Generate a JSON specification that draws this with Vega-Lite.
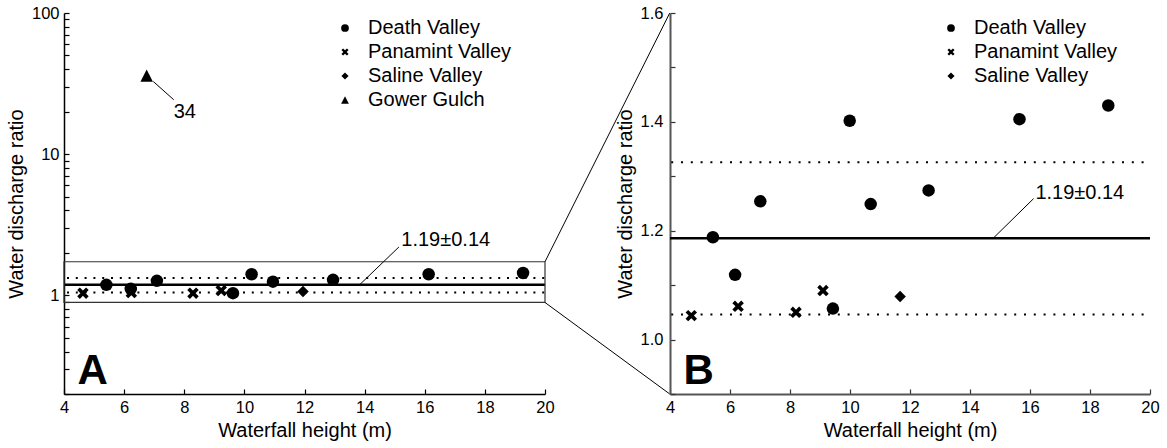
{
  "$schema": "https://vega.github.io/schema/vega-lite/v6.json",
  "autosize": {"type": "pad"},
  "padding": {"left": 6, "top": 5, "right": 5, "bottom": 2},
  "background": "white",
  "datasets": {
    "pointsA": [
      {"site": "Death Valley", "height": 5.41, "ratio": 1.187},
      {"site": "Death Valley", "height": 6.22, "ratio": 1.112},
      {"site": "Death Valley", "height": 7.09, "ratio": 1.267},
      {"site": "Death Valley", "height": 9.62, "ratio": 1.036},
      {"site": "Death Valley", "height": 10.24, "ratio": 1.41},
      {"site": "Death Valley", "height": 10.95, "ratio": 1.25},
      {"site": "Death Valley", "height": 12.95, "ratio": 1.288},
      {"site": "Death Valley", "height": 16.13, "ratio": 1.41},
      {"site": "Death Valley", "height": 19.27, "ratio": 1.44},
      {"site": "Panamint Valley", "height": 4.63, "ratio": 1.036},
      {"site": "Panamint Valley", "height": 6.24, "ratio": 1.047},
      {"site": "Panamint Valley", "height": 8.29, "ratio": 1.036},
      {"site": "Panamint Valley", "height": 9.23, "ratio": 1.08},
      {"site": "Saline Valley", "height": 11.95, "ratio": 1.064},
      {"site": "Gower Gulch", "height": 6.75, "ratio": 36}
    ],
    "pointsB": [
      {"site": "Death Valley", "height": 5.43, "ratio": 1.188},
      {"site": "Death Valley", "height": 6.17, "ratio": 1.119},
      {"site": "Death Valley", "height": 7.01, "ratio": 1.254},
      {"site": "Death Valley", "height": 9.43, "ratio": 1.057},
      {"site": "Death Valley", "height": 9.99, "ratio": 1.402},
      {"site": "Death Valley", "height": 10.69, "ratio": 1.249},
      {"site": "Death Valley", "height": 12.62, "ratio": 1.274},
      {"site": "Death Valley", "height": 15.65, "ratio": 1.405},
      {"site": "Death Valley", "height": 18.61, "ratio": 1.43},
      {"site": "Panamint Valley", "height": 4.71, "ratio": 1.044},
      {"site": "Panamint Valley", "height": 6.27, "ratio": 1.061},
      {"site": "Panamint Valley", "height": 8.2, "ratio": 1.05},
      {"site": "Panamint Valley", "height": 9.1, "ratio": 1.09},
      {"site": "Saline Valley", "height": 11.67, "ratio": 1.079}
    ],
    "levels": [
      {"level": "mean", "ratio": 1.186},
      {"level": "mean+sd", "ratio": 1.326},
      {"level": "mean-sd", "ratio": 1.046}
    ],
    "one": [{}]
  },
  "hconcat": [
    {
      "width": 481,
      "height": 381,
      "layer": [
        {
          "data": {"name": "pointsA"},
          "mark": {"type": "point", "filled": true, "color": "black", "opacity": 1, "size": 156, "strokeWidth": 0},
          "encoding": {
            "x": {"field": "height", "type": "quantitative", "scale": {"domain": [4, 20], "nice": false, "zero": false},
              "axis": {"values": [4, 6, 8, 10, 12, 14, 16, 18, 20], "format": "d", "title": "Waterfall height (m)", "tickSize": -5, "labelPadding": 10, "titlePadding": 5, "domainColor": "black", "domainWidth": 1.5, "tickColor": "black", "tickWidth": 1.2}},
            "y": {"field": "ratio", "type": "quantitative", "scale": {"type": "log", "domain": [0.2, 100], "nice": false},
              "axis": {"values": [0.2, 0.3, 0.4, 0.5, 0.6, 0.7, 0.8, 0.9, 1, 2, 3, 4, 5, 6, 7, 8, 9, 10, 20, 30, 40, 50, 60, 70, 80, 90, 100], "labelExpr": "datum.value == 1 || datum.value == 10 || datum.value == 100 ? datum.value + '' : ''", "title": "Water discharge ratio", "tickSize": -5, "labelPadding": 10, "titlePadding": 5, "domainColor": "black", "domainWidth": 1.5, "tickColor": "black", "tickWidth": 1.2}},
            "shape": {"field": "site", "type": "nominal",
              "scale": {"domain": ["Death Valley", "Panamint Valley", "Saline Valley", "Gower Gulch"],
                "range": ["circle", "M-0.92,-0.5L-0.5,-0.92L0,-0.42L0.5,-0.92L0.92,-0.5L0.42,0L0.92,0.5L0.5,0.92L0,0.42L-0.5,0.92L-0.92,0.5L-0.42,0Z", "M0,-0.92L0.92,0L0,0.92L-0.92,0Z", "M0,-1L1,0.97L-1,0.97Z"]},
              "legend": {"orient": "none", "legendX": 271, "legendY": 5, "title": null}}
          }
        },
        {
          "data": {"name": "levels"},
          "transform": [{"filter": "datum.level == 'mean'"}],
          "mark": {"type": "rule", "color": "black", "strokeWidth": 2.5},
          "encoding": {
            "x": {"datum": 4, "type": "quantitative", "scale": {"domain": [4, 20], "nice": false, "zero": false},
              "axis": {"values": [4, 6, 8, 10, 12, 14, 16, 18, 20], "format": "d", "title": "Waterfall height (m)", "tickSize": -5, "labelPadding": 10, "titlePadding": 5, "domainColor": "black", "domainWidth": 1.5, "tickColor": "black", "tickWidth": 1.2}},
            "x2": {"datum": 20},
            "y": {"field": "ratio", "type": "quantitative", "scale": {"type": "log", "domain": [0.2, 100], "nice": false},
              "axis": {"values": [0.2, 0.3, 0.4, 0.5, 0.6, 0.7, 0.8, 0.9, 1, 2, 3, 4, 5, 6, 7, 8, 9, 10, 20, 30, 40, 50, 60, 70, 80, 90, 100], "labelExpr": "datum.value == 1 || datum.value == 10 || datum.value == 100 ? datum.value + '' : ''", "title": "Water discharge ratio", "tickSize": -5, "labelPadding": 10, "titlePadding": 5, "domainColor": "black", "domainWidth": 1.5, "tickColor": "black", "tickWidth": 1.2}}
          }
        },
        {
          "data": {"name": "levels"},
          "transform": [{"filter": "datum.level != 'mean'"}],
          "mark": {"type": "rule", "color": "black", "strokeWidth": 2, "strokeDash": [2, 6.8], "strokeDashOffset": -3},
          "encoding": {
            "x": {"datum": 4, "type": "quantitative", "scale": {"domain": [4, 20], "nice": false, "zero": false},
              "axis": {"values": [4, 6, 8, 10, 12, 14, 16, 18, 20], "format": "d", "title": "Waterfall height (m)", "tickSize": -5, "labelPadding": 10, "titlePadding": 5, "domainColor": "black", "domainWidth": 1.5, "tickColor": "black", "tickWidth": 1.2}},
            "x2": {"datum": 20},
            "y": {"field": "ratio", "type": "quantitative", "scale": {"type": "log", "domain": [0.2, 100], "nice": false},
              "axis": {"values": [0.2, 0.3, 0.4, 0.5, 0.6, 0.7, 0.8, 0.9, 1, 2, 3, 4, 5, 6, 7, 8, 9, 10, 20, 30, 40, 50, 60, 70, 80, 90, 100], "labelExpr": "datum.value == 1 || datum.value == 10 || datum.value == 100 ? datum.value + '' : ''", "title": "Water discharge ratio", "tickSize": -5, "labelPadding": 10, "titlePadding": 5, "domainColor": "black", "domainWidth": 1.5, "tickColor": "black", "tickWidth": 1.2}}
          }
        },
        {
          "data": {"name": "one"},
          "mark": {"type": "rect", "filled": false, "color": "#333", "strokeWidth": 1.2},
          "encoding": {
            "x": {"datum": 4, "type": "quantitative", "scale": {"domain": [4, 20], "nice": false, "zero": false},
              "axis": {"values": [4, 6, 8, 10, 12, 14, 16, 18, 20], "format": "d", "title": "Waterfall height (m)", "tickSize": -5, "labelPadding": 10, "titlePadding": 5, "domainColor": "black", "domainWidth": 1.5, "tickColor": "black", "tickWidth": 1.2}},
            "x2": {"datum": 20},
            "y": {"datum": 0.89, "type": "quantitative", "scale": {"type": "log", "domain": [0.2, 100], "nice": false},
              "axis": {"values": [0.2, 0.3, 0.4, 0.5, 0.6, 0.7, 0.8, 0.9, 1, 2, 3, 4, 5, 6, 7, 8, 9, 10, 20, 30, 40, 50, 60, 70, 80, 90, 100], "labelExpr": "datum.value == 1 || datum.value == 10 || datum.value == 100 ? datum.value + '' : ''", "title": "Water discharge ratio", "tickSize": -5, "labelPadding": 10, "titlePadding": 5, "domainColor": "black", "domainWidth": 1.5, "tickColor": "black", "tickWidth": 1.2}},
            "y2": {"datum": 1.73}
          }
        },
        {
          "data": {"name": "one"},
          "mark": {"type": "rule", "color": "black", "strokeWidth": 1},
          "encoding": {
            "x": {"datum": 13.83, "type": "quantitative", "scale": {"domain": [4, 20], "nice": false, "zero": false},
              "axis": {"values": [4, 6, 8, 10, 12, 14, 16, 18, 20], "format": "d", "title": "Waterfall height (m)", "tickSize": -5, "labelPadding": 10, "titlePadding": 5, "domainColor": "black", "domainWidth": 1.5, "tickColor": "black", "tickWidth": 1.2}},
            "x2": {"datum": 15.14},
            "y": {"datum": 1.186, "type": "quantitative", "scale": {"type": "log", "domain": [0.2, 100], "nice": false},
              "axis": {"values": [0.2, 0.3, 0.4, 0.5, 0.6, 0.7, 0.8, 0.9, 1, 2, 3, 4, 5, 6, 7, 8, 9, 10, 20, 30, 40, 50, 60, 70, 80, 90, 100], "labelExpr": "datum.value == 1 || datum.value == 10 || datum.value == 100 ? datum.value + '' : ''", "title": "Water discharge ratio", "tickSize": -5, "labelPadding": 10, "titlePadding": 5, "domainColor": "black", "domainWidth": 1.5, "tickColor": "black", "tickWidth": 1.2}},
            "y2": {"datum": 2.2}
          }
        },
        {
          "data": {"name": "one"},
          "mark": {"type": "text", "text": "1.19±0.14", "align": "left", "baseline": "alphabetic", "fontSize": 20, "font": "Liberation Sans", "color": "black"},
          "encoding": {
            "x": {"datum": 15.22, "type": "quantitative", "scale": {"domain": [4, 20], "nice": false, "zero": false},
              "axis": {"values": [4, 6, 8, 10, 12, 14, 16, 18, 20], "format": "d", "title": "Waterfall height (m)", "tickSize": -5, "labelPadding": 10, "titlePadding": 5, "domainColor": "black", "domainWidth": 1.5, "tickColor": "black", "tickWidth": 1.2}},
            "y": {"datum": 2.22, "type": "quantitative", "scale": {"type": "log", "domain": [0.2, 100], "nice": false},
              "axis": {"values": [0.2, 0.3, 0.4, 0.5, 0.6, 0.7, 0.8, 0.9, 1, 2, 3, 4, 5, 6, 7, 8, 9, 10, 20, 30, 40, 50, 60, 70, 80, 90, 100], "labelExpr": "datum.value == 1 || datum.value == 10 || datum.value == 100 ? datum.value + '' : ''", "title": "Water discharge ratio", "tickSize": -5, "labelPadding": 10, "titlePadding": 5, "domainColor": "black", "domainWidth": 1.5, "tickColor": "black", "tickWidth": 1.2}}
          }
        },
        {
          "data": {"name": "one"},
          "mark": {"type": "rule", "color": "black", "strokeWidth": 1},
          "encoding": {
            "x": {"datum": 6.97, "type": "quantitative", "scale": {"domain": [4, 20], "nice": false, "zero": false},
              "axis": {"values": [4, 6, 8, 10, 12, 14, 16, 18, 20], "format": "d", "title": "Waterfall height (m)", "tickSize": -5, "labelPadding": 10, "titlePadding": 5, "domainColor": "black", "domainWidth": 1.5, "tickColor": "black", "tickWidth": 1.2}},
            "x2": {"datum": 7.65},
            "y": {"datum": 32.7, "type": "quantitative", "scale": {"type": "log", "domain": [0.2, 100], "nice": false},
              "axis": {"values": [0.2, 0.3, 0.4, 0.5, 0.6, 0.7, 0.8, 0.9, 1, 2, 3, 4, 5, 6, 7, 8, 9, 10, 20, 30, 40, 50, 60, 70, 80, 90, 100], "labelExpr": "datum.value == 1 || datum.value == 10 || datum.value == 100 ? datum.value + '' : ''", "title": "Water discharge ratio", "tickSize": -5, "labelPadding": 10, "titlePadding": 5, "domainColor": "black", "domainWidth": 1.5, "tickColor": "black", "tickWidth": 1.2}},
            "y2": {"datum": 24.3}
          }
        },
        {
          "data": {"name": "one"},
          "mark": {"type": "text", "text": "34", "align": "left", "baseline": "alphabetic", "fontSize": 20, "font": "Liberation Sans", "color": "black"},
          "encoding": {
            "x": {"datum": 7.65, "type": "quantitative", "scale": {"domain": [4, 20], "nice": false, "zero": false},
              "axis": {"values": [4, 6, 8, 10, 12, 14, 16, 18, 20], "format": "d", "title": "Waterfall height (m)", "tickSize": -5, "labelPadding": 10, "titlePadding": 5, "domainColor": "black", "domainWidth": 1.5, "tickColor": "black", "tickWidth": 1.2}},
            "y": {"datum": 18.0, "type": "quantitative", "scale": {"type": "log", "domain": [0.2, 100], "nice": false},
              "axis": {"values": [0.2, 0.3, 0.4, 0.5, 0.6, 0.7, 0.8, 0.9, 1, 2, 3, 4, 5, 6, 7, 8, 9, 10, 20, 30, 40, 50, 60, 70, 80, 90, 100], "labelExpr": "datum.value == 1 || datum.value == 10 || datum.value == 100 ? datum.value + '' : ''", "title": "Water discharge ratio", "tickSize": -5, "labelPadding": 10, "titlePadding": 5, "domainColor": "black", "domainWidth": 1.5, "tickColor": "black", "tickWidth": 1.2}}
          }
        },
        {
          "data": {"name": "one"},
          "mark": {"type": "text", "text": "A", "align": "left", "baseline": "alphabetic", "fontSize": 42, "fontWeight": "bold", "font": "Liberation Sans", "color": "black"},
          "encoding": {
            "x": {"datum": 4.45, "type": "quantitative", "scale": {"domain": [4, 20], "nice": false, "zero": false},
              "axis": {"values": [4, 6, 8, 10, 12, 14, 16, 18, 20], "format": "d", "title": "Waterfall height (m)", "tickSize": -5, "labelPadding": 10, "titlePadding": 5, "domainColor": "black", "domainWidth": 1.5, "tickColor": "black", "tickWidth": 1.2}},
            "y": {"datum": 0.236, "type": "quantitative", "scale": {"type": "log", "domain": [0.2, 100], "nice": false},
              "axis": {"values": [0.2, 0.3, 0.4, 0.5, 0.6, 0.7, 0.8, 0.9, 1, 2, 3, 4, 5, 6, 7, 8, 9, 10, 20, 30, 40, 50, 60, 70, 80, 90, 100], "labelExpr": "datum.value == 1 || datum.value == 10 || datum.value == 100 ? datum.value + '' : ''", "title": "Water discharge ratio", "tickSize": -5, "labelPadding": 10, "titlePadding": 5, "domainColor": "black", "domainWidth": 1.5, "tickColor": "black", "tickWidth": 1.2}}
          }
        },
        {
          "data": {"name": "one"},
          "mark": {"type": "rule", "color": "black", "strokeWidth": 1},
          "encoding": {
            "x": {"datum": 20, "type": "quantitative", "scale": {"domain": [4, 20], "nice": false, "zero": false},
              "axis": {"values": [4, 6, 8, 10, 12, 14, 16, 18, 20], "format": "d", "title": "Waterfall height (m)", "tickSize": -5, "labelPadding": 10, "titlePadding": 5, "domainColor": "black", "domainWidth": 1.5, "tickColor": "black", "tickWidth": 1.2}},
            "x2": {"datum": 24.15},
            "y": {"datum": 1.73, "type": "quantitative", "scale": {"type": "log", "domain": [0.2, 100], "nice": false},
              "axis": {"values": [0.2, 0.3, 0.4, 0.5, 0.6, 0.7, 0.8, 0.9, 1, 2, 3, 4, 5, 6, 7, 8, 9, 10, 20, 30, 40, 50, 60, 70, 80, 90, 100], "labelExpr": "datum.value == 1 || datum.value == 10 || datum.value == 100 ? datum.value + '' : ''", "title": "Water discharge ratio", "tickSize": -5, "labelPadding": 10, "titlePadding": 5, "domainColor": "black", "domainWidth": 1.5, "tickColor": "black", "tickWidth": 1.2}},
            "y2": {"datum": 100}
          }
        },
        {
          "data": {"name": "one"},
          "mark": {"type": "rule", "color": "black", "strokeWidth": 1},
          "encoding": {
            "x": {"datum": 20, "type": "quantitative", "scale": {"domain": [4, 20], "nice": false, "zero": false},
              "axis": {"values": [4, 6, 8, 10, 12, 14, 16, 18, 20], "format": "d", "title": "Waterfall height (m)", "tickSize": -5, "labelPadding": 10, "titlePadding": 5, "domainColor": "black", "domainWidth": 1.5, "tickColor": "black", "tickWidth": 1.2}},
            "x2": {"datum": 24.15},
            "y": {"datum": 0.89, "type": "quantitative", "scale": {"type": "log", "domain": [0.2, 100], "nice": false},
              "axis": {"values": [0.2, 0.3, 0.4, 0.5, 0.6, 0.7, 0.8, 0.9, 1, 2, 3, 4, 5, 6, 7, 8, 9, 10, 20, 30, 40, 50, 60, 70, 80, 90, 100], "labelExpr": "datum.value == 1 || datum.value == 10 || datum.value == 100 ? datum.value + '' : ''", "title": "Water discharge ratio", "tickSize": -5, "labelPadding": 10, "titlePadding": 5, "domainColor": "black", "domainWidth": 1.5, "tickColor": "black", "tickWidth": 1.2}},
            "y2": {"datum": 0.2}
          }
        }
      ]
    },
    {
      "width": 480,
      "height": 381,
      "layer": [
        {
          "data": {"name": "pointsB"},
          "mark": {"type": "point", "filled": true, "color": "black", "opacity": 1, "size": 156, "strokeWidth": 0},
          "encoding": {
            "x": {"field": "height", "type": "quantitative", "scale": {"domain": [4, 20], "nice": false, "zero": false},
              "axis": {"values": [4, 6, 8, 10, 12, 14, 16, 18, 20], "format": "d", "title": "Waterfall height (m)", "tickSize": -5, "labelPadding": 10, "titlePadding": 5, "domainColor": "#555", "domainWidth": 2, "tickColor": "#333", "tickWidth": 1.2}},
            "y": {"field": "ratio", "type": "quantitative", "scale": {"domain": [0.9, 1.6], "nice": false, "zero": false},
              "axis": {"values": [0.9, 1.0, 1.1, 1.2, 1.3, 1.4, 1.5, 1.6], "labelExpr": "(round(datum.value * 10) % 2 == 0 && datum.value > 0.95) ? format(datum.value, '.1f') : ''", "title": "Water discharge ratio", "tickSize": -5, "labelPadding": 12, "titlePadding": 5, "domainColor": "#555", "domainWidth": 2, "tickColor": "#333", "tickWidth": 1.2}},
            "shape": {"field": "site", "type": "nominal",
              "scale": {"domain": ["Death Valley", "Panamint Valley", "Saline Valley"],
                "range": ["circle", "M-0.92,-0.5L-0.5,-0.92L0,-0.42L0.5,-0.92L0.92,-0.5L0.42,0L0.92,0.5L0.5,0.92L0,0.42L-0.5,0.92L-0.92,0.5L-0.42,0Z", "M0,-0.92L0.92,0L0,0.92L-0.92,0Z"]},
              "legend": {"orient": "none", "legendX": 271, "legendY": 5, "title": null}}
          }
        },
        {
          "data": {"name": "levels"},
          "transform": [{"filter": "datum.level == 'mean'"}],
          "mark": {"type": "rule", "color": "black", "strokeWidth": 2.5},
          "encoding": {
            "x": {"datum": 4, "type": "quantitative", "scale": {"domain": [4, 20], "nice": false, "zero": false},
              "axis": {"values": [4, 6, 8, 10, 12, 14, 16, 18, 20], "format": "d", "title": "Waterfall height (m)", "tickSize": -5, "labelPadding": 10, "titlePadding": 5, "domainColor": "#555", "domainWidth": 2, "tickColor": "#333", "tickWidth": 1.2}},
            "x2": {"datum": 20},
            "y": {"field": "ratio", "type": "quantitative", "scale": {"domain": [0.9, 1.6], "nice": false, "zero": false},
              "axis": {"values": [0.9, 1.0, 1.1, 1.2, 1.3, 1.4, 1.5, 1.6], "labelExpr": "(round(datum.value * 10) % 2 == 0 && datum.value > 0.95) ? format(datum.value, '.1f') : ''", "title": "Water discharge ratio", "tickSize": -5, "labelPadding": 12, "titlePadding": 5, "domainColor": "#555", "domainWidth": 2, "tickColor": "#333", "tickWidth": 1.2}}
          }
        },
        {
          "data": {"name": "levels"},
          "transform": [{"filter": "datum.level != 'mean'"}],
          "mark": {"type": "rule", "color": "black", "strokeWidth": 2, "strokeDash": [2, 7.8], "strokeDashOffset": -11},
          "encoding": {
            "x": {"datum": 4, "type": "quantitative", "scale": {"domain": [4, 20], "nice": false, "zero": false},
              "axis": {"values": [4, 6, 8, 10, 12, 14, 16, 18, 20], "format": "d", "title": "Waterfall height (m)", "tickSize": -5, "labelPadding": 10, "titlePadding": 5, "domainColor": "#555", "domainWidth": 2, "tickColor": "#333", "tickWidth": 1.2}},
            "x2": {"datum": 20},
            "y": {"field": "ratio", "type": "quantitative", "scale": {"domain": [0.9, 1.6], "nice": false, "zero": false},
              "axis": {"values": [0.9, 1.0, 1.1, 1.2, 1.3, 1.4, 1.5, 1.6], "labelExpr": "(round(datum.value * 10) % 2 == 0 && datum.value > 0.95) ? format(datum.value, '.1f') : ''", "title": "Water discharge ratio", "tickSize": -5, "labelPadding": 12, "titlePadding": 5, "domainColor": "#555", "domainWidth": 2, "tickColor": "#333", "tickWidth": 1.2}}
          }
        },
        {
          "data": {"name": "one"},
          "mark": {"type": "rule", "color": "black", "strokeWidth": 1},
          "encoding": {
            "x": {"datum": 14.77, "type": "quantitative", "scale": {"domain": [4, 20], "nice": false, "zero": false},
              "axis": {"values": [4, 6, 8, 10, 12, 14, 16, 18, 20], "format": "d", "title": "Waterfall height (m)", "tickSize": -5, "labelPadding": 10, "titlePadding": 5, "domainColor": "#555", "domainWidth": 2, "tickColor": "#333", "tickWidth": 1.2}},
            "x2": {"datum": 16.12},
            "y": {"datum": 1.186, "type": "quantitative", "scale": {"domain": [0.9, 1.6], "nice": false, "zero": false},
              "axis": {"values": [0.9, 1.0, 1.1, 1.2, 1.3, 1.4, 1.5, 1.6], "labelExpr": "(round(datum.value * 10) % 2 == 0 && datum.value > 0.95) ? format(datum.value, '.1f') : ''", "title": "Water discharge ratio", "tickSize": -5, "labelPadding": 12, "titlePadding": 5, "domainColor": "#555", "domainWidth": 2, "tickColor": "#333", "tickWidth": 1.2}},
            "y2": {"datum": 1.259}
          }
        },
        {
          "data": {"name": "one"},
          "mark": {"type": "text", "text": "1.19±0.14", "align": "left", "baseline": "alphabetic", "fontSize": 20, "font": "Liberation Sans", "color": "black"},
          "encoding": {
            "x": {"datum": 16.18, "type": "quantitative", "scale": {"domain": [4, 20], "nice": false, "zero": false},
              "axis": {"values": [4, 6, 8, 10, 12, 14, 16, 18, 20], "format": "d", "title": "Waterfall height (m)", "tickSize": -5, "labelPadding": 10, "titlePadding": 5, "domainColor": "#555", "domainWidth": 2, "tickColor": "#333", "tickWidth": 1.2}},
            "y": {"datum": 1.258, "type": "quantitative", "scale": {"domain": [0.9, 1.6], "nice": false, "zero": false},
              "axis": {"values": [0.9, 1.0, 1.1, 1.2, 1.3, 1.4, 1.5, 1.6], "labelExpr": "(round(datum.value * 10) % 2 == 0 && datum.value > 0.95) ? format(datum.value, '.1f') : ''", "title": "Water discharge ratio", "tickSize": -5, "labelPadding": 12, "titlePadding": 5, "domainColor": "#555", "domainWidth": 2, "tickColor": "#333", "tickWidth": 1.2}}
          }
        },
        {
          "data": {"name": "one"},
          "mark": {"type": "text", "text": "B", "align": "left", "baseline": "alphabetic", "fontSize": 42, "fontWeight": "bold", "font": "Liberation Sans", "color": "black"},
          "encoding": {
            "x": {"datum": 4.45, "type": "quantitative", "scale": {"domain": [4, 20], "nice": false, "zero": false},
              "axis": {"values": [4, 6, 8, 10, 12, 14, 16, 18, 20], "format": "d", "title": "Waterfall height (m)", "tickSize": -5, "labelPadding": 10, "titlePadding": 5, "domainColor": "#555", "domainWidth": 2, "tickColor": "#333", "tickWidth": 1.2}},
            "y": {"datum": 0.919, "type": "quantitative", "scale": {"domain": [0.9, 1.6], "nice": false, "zero": false},
              "axis": {"values": [0.9, 1.0, 1.1, 1.2, 1.3, 1.4, 1.5, 1.6], "labelExpr": "(round(datum.value * 10) % 2 == 0 && datum.value > 0.95) ? format(datum.value, '.1f') : ''", "title": "Water discharge ratio", "tickSize": -5, "labelPadding": 12, "titlePadding": 5, "domainColor": "#555", "domainWidth": 2, "tickColor": "#333", "tickWidth": 1.2}}
          }
        }
      ]
    }
  ],
  "spacing": 125,
  "bounds": "flush",
  "resolve": {
    "scale": {"x": "independent", "y": "independent", "shape": "independent"},
    "axis": {"x": "independent", "y": "independent"},
    "legend": {"shape": "independent"}
  },
  "config": {
    "view": {"stroke": null},
    "font": "Liberation Sans",
    "axis": {"grid": false, "labelFont": "Liberation Sans", "titleFont": "Liberation Sans", "labelFontSize": 16.5, "titleFontSize": 20, "titleFontWeight": "normal", "labelColor": "black", "titleColor": "black", "labelFlush": false, "labelOverlap": false},
    "legend": {"labelFont": "Liberation Sans", "labelFontSize": 20, "labelColor": "black", "symbolSize": 60, "symbolFillColor": "black", "symbolStrokeWidth": 0, "rowPadding": 4, "labelOffset": 13, "padding": 0}
  }
}
